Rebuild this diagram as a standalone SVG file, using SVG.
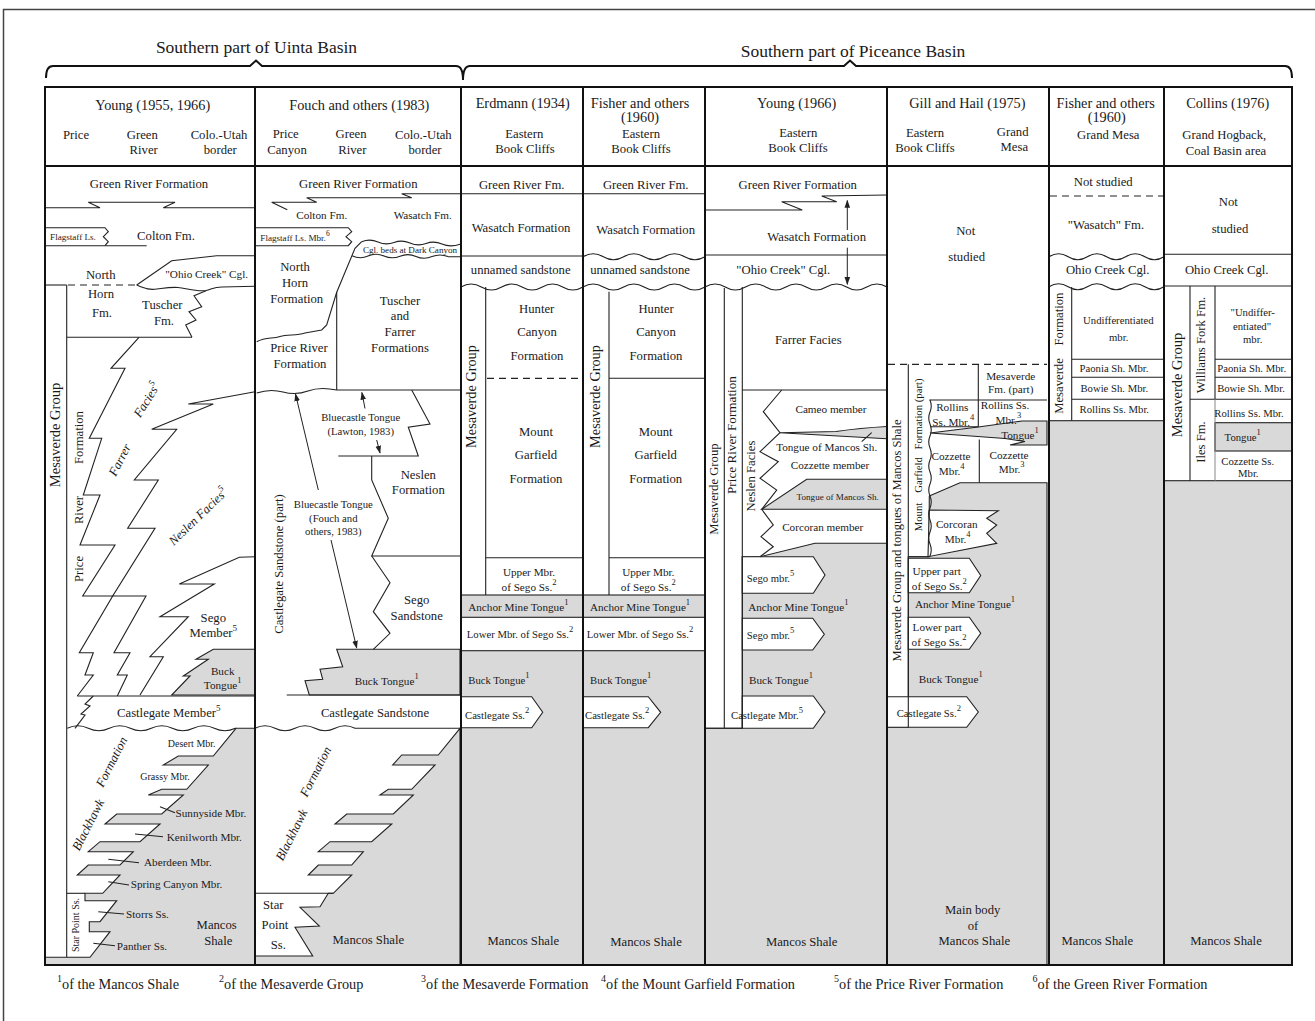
<svg xmlns="http://www.w3.org/2000/svg" width="1315" height="1021" viewBox="0 0 1315 1021">
<defs>
<style>
text{font-family:"Liberation Serif","Times New Roman",serif;fill:#1a1a1a;dominant-baseline:central;text-anchor:middle}
.ttl{font-size:17.5px}
.h{font-size:14.3px}
.sh{font-size:12.7px}
.m{font-size:12.7px}
.s{font-size:11.2px}
.xs{font-size:10.7px}
.st{font-size:10px}
.xxs{font-size:9.1px}
.fn{font-size:14.3px;text-anchor:start}
.ls{text-anchor:start}
.i{font-style:italic}
.ln{fill:none;stroke:#222;stroke-width:1.1}
.lt{fill:none;stroke:#888;stroke-width:1}
.ds{fill:none;stroke:#222;stroke-width:1.2;stroke-dasharray:7 5}
.gb{fill:#d9d9d9;stroke:#222;stroke-width:1.1}
.gn{fill:#d9d9d9;stroke:none}
.wb{fill:#fff;stroke:#222;stroke-width:1.1}
.th{fill:none;stroke:#111;stroke-width:2}
.ar{fill:none;stroke:#222;stroke-width:1;marker-end:url(#ah)}
</style>
<marker id="ah" viewBox="0 0 10 10" refX="9" refY="5" markerWidth="8" markerHeight="8" orient="auto" markerUnits="userSpaceOnUse"><path d="M0,1.5 L10,5 L0,8.5 Z" fill="#222"/></marker>
</defs>
<rect x="0" y="0" width="1315" height="1021" fill="#fff"/>
<rect x="3.5" y="9.5" width="1340" height="1040" fill="none" stroke="#444" stroke-width="1.5"/>

<g id="basins">
<text class="ttl" x="256.5" y="46.5">Southern part of Uinta Basin</text>
<text class="ttl" x="853" y="51">Southern part of Piceance Basin</text>
<path class="th" d="M46,78 Q46,66 53,66 L250,66 L256,60.5 L262,66 L456,66 Q463,66 463,80 Q463,66 470,66 L844,66 L850,60.5 L856,66 L1285,66 Q1292,66 1292,78"/>
</g>

<g id="col-young55">
<polygon class="gb" points="255,649.3 213.3,649.3 196,659.3 208.3,659.3 183.3,676 190,676 171.7,695 255,695"/>
<polygon class="gb" points="236,728.3 255,728.3 255,965 45,965 45,957.3 90,957.3 110,931.7 89.3,931.7 89.3,921.7 100,921.7 116.7,900.7 85,900.7 85,893.3 102.7,893.3 120,875 77.3,875 88.3,865 120,865 133.3,851.7 88.3,851.7 100,841.7 140,841.7 160,824 105,824 116.7,814 161.7,814 183.3,795 148.3,795 161.7,789.3 186.7,789.3 208.3,765 163.3,765 178.3,756 213.3,756"/>
<polyline class="ln" points="45,207.7 100,207.7 88.3,202.3 175,202.3 163.3,207.7 255,207.7"/>
<path class="ln" d="M45,227.7 H105 L108.3,231.7 L103.3,236.7 L108.3,241.7 L105,245.7"/>
<path class="ln" d="M45,245.7 H146.7"/>
<path class="ln" d="M136.7,285 L171.7,260.7 L216.7,255.7 L255,255.7"/>
<path class="ln" d="M136.7,285 C146,289 150,290 157,289 C165,288 170,287 178,287.5 C186,288 196,292 206,290.5 C212,289 214,287 222,287 L255,286.3"/>
<path class="ln" d="M45,285 H66.7"/>
<path class="ds" d="M68,285 H136.7"/>
<path class="ln" d="M66.7,285 V957.3"/>
<path class="ln" d="M66.7,337.3 H192"/>
<polyline class="ln" points="192,337.3 185.7,325 196,320 189,311.7 201.7,306.7 194,295.7 206,290.7"/>
<polyline class="ln" points="139,337.3 111,368.3 125,368.3 89.3,438.3 101.7,438.3 83.3,495 100,495 80,545 115,545 82.7,596 112.7,596 79.3,652.7 93.3,652.7 85,675 93.3,675 77.3,696"/>
<polyline class="ln" points="255,391.7 188.3,404 213.3,404 151.7,429.3 176.7,429.3 134.3,480 158.3,480 127.7,528.3 155,528.3 112.7,596 146,596 114,652.7 130,652.7 117.3,675 127.3,675 117.3,696"/>
<polyline class="ln" points="255,556.7 239.3,557.3 179.3,584 214.3,584 160,616.7 188.3,616.7 150,656.7 163.3,656.7 140,695"/>
<path class="ln" d="M77.3,696 H255"/>
<polyline class="ln" points="93.3,696 85,704 90,706 81,714 85,715 75,728.3"/>
<path class="ln" d="M67.3,728.3 q10.5,-5 21,0 t21,0 t21,0 t21,0 t21,0 t21,0 t21,0 t21,0 L236,728.3"/>
<path class="ln" d="M66.7,893.3 H85"/>
<path class="ln" d="M160,806.7 L175,812.7 M135,834 L163,836.7 M108.3,859.3 L139,862.7 M108.3,881.7 L129,885 M98.3,911.7 L124,914 M93.3,943.3 L115,945.7"/>
<text class="m" x="149" y="184">Green River Formation</text>
<text class="xxs" x="73" y="237">Flagstaff Ls.</text>
<text class="m" x="166" y="236">Colton Fm.</text>
<text class="m" x="100.7" y="275">North</text>
<text class="m" x="101" y="294">Horn</text>
<text class="m" x="102" y="313.3">Fm.</text>
<text class="s" x="206.7" y="273.7">"Ohio Creek" Cgl.</text>
<text class="m" x="162.3" y="305">Tuscher</text>
<text class="m" x="164" y="320.7">Fm.</text>
<text style="font-size:14.5px" transform="translate(55,435) rotate(-90)">Mesaverde Group</text>
<text class="m" transform="translate(79.3,569) rotate(-90)">Price</text>
<text class="m" transform="translate(79.3,510) rotate(-90)">River</text>
<text class="m" transform="translate(79.3,437.5) rotate(-90)">Formation</text>
<text class="m i" transform="translate(120,460) rotate(-63)">Farrer</text>
<text class="m i" transform="translate(147,400) rotate(-58)">Facies<tspan baseline-shift="super" font-size="9">5</tspan></text>
<text class="m i" transform="translate(198.3,516.7) rotate(-44)">Neslen Facies<tspan baseline-shift="super" font-size="9">5</tspan></text>
<text class="m" x="213.3" y="618.3">Sego</text>
<text class="m" x="213.3" y="632.7">Member<tspan baseline-shift="super" font-size="9">5</tspan></text>
<text class="s" x="222.7" y="670.7">Buck</text>
<text class="s" x="222.7" y="685">Tongue<tspan baseline-shift="super" font-size="8.5">1</tspan></text>
<text class="m" x="168.8" y="712.7">Castlegate Member<tspan baseline-shift="super" font-size="9">5</tspan></text>
<text class="m i" transform="translate(88.3,825) rotate(-63)">Blackhawk</text>
<text class="m i" transform="translate(111.7,762) rotate(-63)">Formation</text>
<text class="st" x="191.7" y="743.3">Desert Mbr.</text>
<text class="st" x="165" y="776">Grassy Mbr.</text>
<text class="s ls" x="175.5" y="812.7">Sunnyside Mbr.</text>
<text class="s ls" x="166.7" y="836.5">Kenilworth Mbr.</text>
<text class="s ls" x="144" y="861.7">Aberdeen Mbr.</text>
<text class="s ls" x="130.7" y="884.3">Spring Canyon Mbr.</text>
<text class="s ls" x="126" y="914">Storrs Ss.</text>
<text class="s ls" x="116.7" y="945.7">Panther Ss.</text>
<text class="m" x="216.7" y="925">Mancos</text>
<text class="m" x="218.3" y="940.7">Shale</text>
<text class="st" transform="translate(75,925) rotate(-90)">Star Point Ss.</text>
</g>

<g id="col-fouch">
<polygon class="gb" points="460,649.3 336.7,649.3 342.7,666.7 320,669.3 322.7,679.3 305,680.7 309.3,695 460,695"/>
<polygon class="gb" points="438.3,755 460,728.3 460,965 255,965 255,956 312.7,956 295,927.3 319.3,926 300,907.3 320,906.7 328.3,893.3 333.3,893.3 351.7,875 308.3,875 318.3,865 351.7,865 363.3,851.7 318.3,851.7 330,841.7 371.7,841.7 391.7,824 335,824 346.7,814 393.3,814 413.3,795 380,795 388.3,789.3 411.7,789.3 435,765 392.7,765 401.7,755"/>
<polyline class="ln" points="287.3,209.7 271.7,202.3 316.7,202.3 306.7,197.7 411.7,197.7 401.7,193.7 460,193.7"/>
<path class="ln" d="M255,227.7 H348.3 L351.7,231.7 L346,236.7 L351.7,241.7 L348.3,245.7 H255"/>
<path class="ln" d="M256.7,341.7 C266,337 272,339 280,336.5 C288,334 296,336 305,333 L321.7,330 L326.7,325 L336.7,292.3 L355,248.3 L361.7,241.7"/>
<path class="ln" d="M361.7,241.7 Q370,238.5 378,242 T394,242.5 T410,243 T426,243.5 T442,244 T460,244.3"/>
<path class="ln" d="M352,255.7 Q360,259.5 368,256 T384,256 T400,256.2 T416,256.4 T432,256.6 T448,256.6 L460,256.7"/>
<path class="ln" d="M336.7,292.3 V390"/>
<path class="ln" d="M256.7,393 Q270,388.5 283,392 T308,391 T336.7,390 L460,390"/>
<polyline class="ln" points="411.7,390 430,424 408.3,427.3 418.3,456 338.3,456"/>
<polyline class="ln" points="371.7,456 371.7,480 388.3,518.3 371.7,556 460,556"/>
<polyline class="ln" points="371.7,556 390,582.7 373.3,611.7 390,633.3 373.3,649.3"/>
<path class="ln" d="M286.7,695 H460"/>
<path class="ln" d="M255,728.3 q10,-5 20,0 t20,0 t20,0 t20,0 t20,0 L460,728.3"/>
<path class="ln" d="M255,893.3 H333.3"/>
<text class="m" x="358.3" y="184">Green River Formation</text>
<text class="s" x="321.7" y="215.3">Colton Fm.</text>
<text class="s" x="422.7" y="215.3">Wasatch Fm.</text>
<text class="xxs" x="295" y="238.3">Flagstaff Ls. Mbr.<tspan baseline-shift="super" font-size="7.5">6</tspan></text>
<text class="xxs" x="410" y="250">Cgl. beds at Dark Canyon</text>
<text class="m" x="295" y="266.7">North</text>
<text class="m" x="295" y="282.7">Horn</text>
<text class="m" x="296.7" y="298.7">Formation</text>
<text class="m" x="299" y="348">Price River</text>
<text class="m" x="300" y="363.7">Formation</text>
<text class="m" x="400" y="301">Tuscher</text>
<text class="m" x="400" y="316">and</text>
<text class="m" x="400" y="332">Farrer</text>
<text class="m" x="400" y="348">Formations</text>
<text class="xs" x="360.7" y="417.3">Bluecastle Tongue</text>
<text class="xs" x="360.7" y="430.7">(Lawton, 1983)</text>
<text class="m" x="418.3" y="475">Neslen</text>
<text class="m" x="418.3" y="490">Formation</text>
<text class="xs" x="333.3" y="504.3">Bluecastle Tongue</text>
<text class="xs" x="333.3" y="517.7">(Fouch and</text>
<text class="xs" x="333.3" y="530.7">others, 1983)</text>
<text class="m" transform="translate(279,564) rotate(-90)">Castlegate Sandstone (part)</text>
<text class="m" x="416.7" y="600">Sego</text>
<text class="m" x="416.7" y="616">Sandstone</text>
<text class="s" x="386.7" y="680.7">Buck Tongue<tspan baseline-shift="super" font-size="8.5">1</tspan></text>
<text class="m" x="375" y="712.7">Castlegate Sandstone</text>
<text class="m i" transform="translate(291.7,835) rotate(-63)">Blackhawk</text>
<text class="m i" transform="translate(315.7,771.7) rotate(-63)">Formation</text>
<text class="m" x="273.3" y="905">Star</text>
<text class="m" x="275" y="925">Point</text>
<text class="m" x="278.3" y="945">Ss.</text>
<text class="m" x="368.3" y="940">Mancos Shale</text>
</g>

<g id="col-erdmann">
<rect class="gb" x="461" y="595" width="122" height="22.3"/>
<rect class="gb" x="461" y="650.7" width="122" height="314.3"/>
<polygon class="wb" points="461,696.7 531.7,696.7 542.7,712.3 531.7,727.7 461,727.7"/>
<path class="ln" d="M461,193.7 H583 M461,256 H583"/>
<path class="ln" d="M461,287 q10.17,-6 20.33,0 t20.33,0 t20.33,0 t20.33,0 t20.33,0 t20.33,0"/>
<path class="ln" d="M485.7,287 V595"/>
<path class="ds" d="M487,378.3 H583"/>
<path class="ln" d="M485.7,557.7 H583"/>
<text class="m" x="521.7" y="184.7">Green River Fm.</text>
<text class="m" x="521" y="227.7">Wasatch Formation</text>
<text class="m" x="520.7" y="270">unnamed sandstone</text>
<text class="m" x="536.7" y="309">Hunter</text>
<text class="m" x="537" y="332">Canyon</text>
<text class="m" x="537" y="355.7">Formation</text>
<text style="font-size:14.3px" transform="translate(471,396.5) rotate(-90)">Mesaverde Group</text>
<text class="m" x="536" y="432">Mount</text>
<text class="m" x="536" y="455">Garfield</text>
<text class="m" x="536" y="479">Formation</text>
<text class="s" x="529" y="571.7">Upper Mbr.</text>
<text class="s" x="529" y="586.7">of Sego Ss.<tspan baseline-shift="super" font-size="8.5">2</tspan></text>
<text class="s" x="518.3" y="606.5">Anchor Mine Tongue<tspan baseline-shift="super" font-size="8.5">1</tspan></text>
<text class="xs" x="520" y="634.3">Lower Mbr. of Sego Ss.<tspan baseline-shift="super" font-size="8.5">2</tspan></text>
<text class="xs ls" x="468.3" y="680">Buck Tongue<tspan baseline-shift="super" font-size="8.5">1</tspan></text>
<text class="xs ls" x="465" y="715">Castlegate Ss.<tspan baseline-shift="super" font-size="8.5">2</tspan></text>
<text class="m" x="523.3" y="941">Mancos Shale</text>
</g>

<g id="col-fisher60">
<rect class="gb" x="583" y="595" width="122" height="22.3"/>
<rect class="gb" x="583" y="650.7" width="122" height="314.3"/>
<polygon class="wb" points="583,696.7 648.3,696.7 660.7,712.3 648.3,727.7 583,727.7"/>
<path class="ln" d="M583,193.7 H705"/>
<path class="ln" d="M583,256.7 q10.17,-6 20.33,0 t20.33,0 t20.33,0 t20.33,0 t20.33,0 t20.33,0"/>
<path class="ln" d="M583,287 q10.17,-6 20.33,0 t20.33,0 t20.33,0 t20.33,0 t20.33,0 t20.33,0"/>
<path class="ln" d="M609,291.7 V595 M609,378.3 H705 M609,557.7 H705"/>
<text class="m" x="645.7" y="184.7">Green River Fm.</text>
<text class="m" x="645.7" y="230">Wasatch Formation</text>
<text class="m" x="640" y="270">unnamed sandstone</text>
<text class="m" x="656" y="309">Hunter</text>
<text class="m" x="656" y="332">Canyon</text>
<text class="m" x="656" y="355.7">Formation</text>
<text style="font-size:14.3px" transform="translate(595,396.5) rotate(-90)">Mesaverde Group</text>
<text class="m" x="655.7" y="432">Mount</text>
<text class="m" x="655.7" y="455">Garfield</text>
<text class="m" x="655.7" y="479">Formation</text>
<text class="s" x="648.3" y="571.7">Upper Mbr.</text>
<text class="s" x="648.3" y="586.7">of Sego Ss.<tspan baseline-shift="super" font-size="8.5">2</tspan></text>
<text class="s" x="640" y="606.5">Anchor Mine Tongue<tspan baseline-shift="super" font-size="8.5">1</tspan></text>
<text class="xs" x="640" y="634.3">Lower Mbr. of Sego Ss.<tspan baseline-shift="super" font-size="8.5">2</tspan></text>
<text class="xs ls" x="590" y="679.5">Buck Tongue<tspan baseline-shift="super" font-size="8.5">1</tspan></text>
<text class="xs ls" x="585" y="715">Castlegate Ss.<tspan baseline-shift="super" font-size="8.5">2</tspan></text>
<text class="m" x="646" y="942">Mancos Shale</text>
</g>

<g id="col-young66">
<polygon class="gb" points="742.3,556.7 760,556.7 815,543.3 887,543.3 887,965 705,965 705,728.3 742.3,728.3"/>
<path class="gn" d="M780,432.7 L836,431.5 Q860,428 887,426.5 L887,438.7 Z"/>
<path class="ln" d="M780,432.7 L836,431.5 Q860,428 887,426.5 M780,432.7 L887,438.7"/>
<polygon class="gb" points="761.7,509.3 806.7,479.3 887,479.3 887,509.3"/>
<polygon class="wb" points="742.3,556.7 813.3,556.7 825,575 813.3,593.3 742.3,593.3"/>
<polygon class="wb" points="742.3,618.3 812.7,618.3 824.3,634.3 812.7,650 742.3,650"/>
<polygon class="wb" points="742.3,696 813.3,696 825,712 813.3,728.3 742.3,728.3"/>
<polyline class="ln" points="705.3,210 802.3,210 781.7,201.7 836.7,201.7 821.7,196 887,195"/>
<path class="ln" d="M705,255 H887"/>
<path class="ln" d="M705,287 q10.11,-6 20.22,0 t20.22,0 t20.22,0 t20.22,0 t20.22,0 t20.22,0 t20.22,0 t20.22,0 t20.22,0"/>
<path class="ln" d="M724.3,288 V728.3 M742.3,287 V728.3 M705,728.3 H742.3 M742.3,390 H887"/>
<polyline class="ln" points="781.7,390 763.3,411.7 780,432.7 760,451.7 778.3,461.7 760,478.3 776.7,490 761.7,509.3 773.3,525 761,536.7 773.3,546.7 760,556.7"/>
<path class="ln" d="M861.7,441.7 L871.7,432.7"/>
<text class="m" x="797.7" y="185">Green River Formation</text>
<text class="m" x="816.7" y="236.7">Wasatch Formation</text>
<text class="m" x="783.3" y="270">"Ohio Creek" Cgl.</text>
<text class="m" x="808.3" y="340">Farrer Facies</text>
<text class="m" transform="translate(714.3,489) rotate(-90)">Mesaverde Group</text>
<text style="font-size:13.2px" transform="translate(731.7,435) rotate(-90)">Price River Formation</text>
<text class="m" transform="translate(751,476) rotate(-90)">Neslen Facies</text>
<text class="s" x="831" y="409">Cameo member</text>
<text class="s" x="826.7" y="447.3">Tongue of Mancos Sh.</text>
<text class="s" x="830" y="465.3">Cozzette member</text>
<text class="xxs" x="837.7" y="496.7">Tongue of Mancos Sh.</text>
<text class="s" x="822.7" y="526.7">Corcoran member</text>
<text class="xs ls" x="746.7" y="577.5">Sego mbr.<tspan baseline-shift="super" font-size="8.5">5</tspan></text>
<text class="s" x="798.3" y="607.3">Anchor Mine Tongue<tspan baseline-shift="super" font-size="8.5">1</tspan></text>
<text class="xs ls" x="746.7" y="635">Sego mbr.<tspan baseline-shift="super" font-size="8.5">5</tspan></text>
<text class="s" x="781" y="680">Buck Tongue<tspan baseline-shift="super" font-size="8.5">1</tspan></text>
<text class="xs ls" x="731" y="715">Castlegate Mbr.<tspan baseline-shift="super" font-size="8.5">5</tspan></text>
<text class="m" x="801.7" y="941.7">Mancos Shale</text>
</g>

<g id="col-gill">
<polygon class="gb" points="929.3,496 960,482.7 1047,482.7 1047,965 887,965 887,727.3 908.3,727.3 908.3,556.7 929,556.7"/>
<polygon class="gb" points="930,433 978.3,427 1022,421 1047,421 1047,445 1010,445 1025,441.5 1005,438.5"/>
<polygon class="wb" points="929.3,510 998.3,510.7 986.7,518.3 996.7,525 986.7,533.3 996.7,543.3 928,556.7"/>
<polygon class="wb" points="908.3,558.3 969.3,558.3 980.7,575.5 969.3,592.7 908.3,592.7"/>
<polygon class="wb" points="908.3,617.3 969.3,617.3 980.7,633.3 969.3,649.3 908.3,649.3"/>
<polygon class="wb" points="887.3,696.7 966.7,696.7 978.3,712 966.7,727.3 887.3,727.3"/>
<path class="ds" d="M888,364.3 H1047"/>
<path class="ln" d="M908.3,364.3 V727.3 M978.3,364.3 V426.7 M929.3,400 H1047 M930,426.7 H978.3 M979.3,439.5 V482.7"/>
<path class="ln" d="M930,400 q2.5,6 0,12 t0,12 t0,12 t0,12 t0,12 t0,12 t0,12 t0,12 t0,12 t0,12 t0,12 t0,12 t0,12 L929,556.7 H908.3"/>
<text class="m" x="965.7" y="230.7">Not</text>
<text class="m" x="966.7" y="257">studied</text>
<text style="font-size:12.6px" transform="translate(897.3,540.5) rotate(-90)">Mesaverde Group and tongues of Mancos Shale</text>
<text class="xs" transform="translate(917.7,517) rotate(-90)">Mount</text>
<text class="xs" transform="translate(917.7,475) rotate(-90)">Garfield</text>
<text class="xs" transform="translate(917.7,414) rotate(-90)">Formation (part)</text>
<text class="s" x="1010.7" y="376">Mesaverde</text>
<text class="s" x="1010.7" y="389.3">Fm. (part)</text>
<text class="s" x="952.3" y="407.3">Rollins</text>
<text class="s" x="953.3" y="421.5">Ss. Mbr.<tspan baseline-shift="super" font-size="8.5">4</tspan></text>
<text class="s" x="1005" y="405">Rollins Ss.</text>
<text class="s" x="1008.3" y="420">Mbr.<tspan baseline-shift="super" font-size="8.5">3</tspan></text>
<text class="s" x="1020" y="435">Tongue<tspan baseline-shift="super" font-size="8.5">1</tspan></text>
<text class="s" x="951" y="456">Cozzette</text>
<text class="s" x="951.7" y="470.7">Mbr.<tspan baseline-shift="super" font-size="8.5">4</tspan></text>
<text class="s" x="1009" y="455.3">Cozzette</text>
<text class="s" x="1011.7" y="469.3">Mbr.<tspan baseline-shift="super" font-size="8.5">3</tspan></text>
<text class="s" x="956.7" y="524">Corcoran</text>
<text class="s" x="957.7" y="539">Mbr.<tspan baseline-shift="super" font-size="8.5">4</tspan></text>
<text class="s" x="936.7" y="570.7">Upper part</text>
<text class="s" x="939.3" y="586">of Sego Ss.<tspan baseline-shift="super" font-size="8.5">2</tspan></text>
<text class="s" x="965" y="604.3">Anchor Mine Tongue<tspan baseline-shift="super" font-size="8.5">1</tspan></text>
<text class="s" x="937.3" y="627.3">Lower part</text>
<text class="s" x="939" y="642.3">of Sego Ss.<tspan baseline-shift="super" font-size="8.5">2</tspan></text>
<text class="s" x="950.7" y="679.3">Buck Tongue<tspan baseline-shift="super" font-size="8.5">1</tspan></text>
<text class="xs ls" x="896.7" y="713.3">Castlegate Ss.<tspan baseline-shift="super" font-size="8.5">2</tspan></text>
<text class="m" x="972.7" y="910">Main body</text>
<text class="m" x="973" y="925.7">of</text>
<text class="m" x="974.3" y="941">Mancos Shale</text>
</g>

<g id="col-fishergm">
<rect class="gb" x="1049" y="420.7" width="115" height="544.3"/>
<path class="ds" d="M1050,196 H1164"/>
<path class="ln" d="M1049,256.7 q9.58,-6 19.17,0 t19.17,0 t19.17,0 t19.17,0 t19.17,0 t19.17,0"/>
<path class="ln" d="M1049,286.7 q9.58,-6 19.17,0 t19.17,0 t19.17,0 t19.17,0 t19.17,0 t19.17,0"/>
<path class="ln" d="M1071.7,287 V420.7 M1071.7,359.3 H1164 M1071.7,377.3 H1164 M1071.7,399.3 H1164"/>
<text class="m" x="1103.3" y="182">Not studied</text>
<text class="m" x="1106" y="225">"Wasatch" Fm.</text>
<text class="m" x="1107.7" y="270">Ohio Creek Cgl.</text>
<text class="m" transform="translate(1059,319) rotate(-90)">Formation</text>
<text class="m" transform="translate(1059,386) rotate(-90)">Mesaverde</text>
<text class="xs" x="1118.3" y="320">Undifferentiated</text>
<text class="xs" x="1118.7" y="336.7">mbr.</text>
<text class="xs" x="1114" y="368.3">Paonia Sh. Mbr.</text>
<text class="xs" x="1114.3" y="388.3">Bowie Sh. Mbr.</text>
<text class="xs" x="1114.3" y="409.3">Rollins Ss. Mbr.</text>
<text class="m" x="1097.3" y="940.7">Mancos Shale</text>
</g>

<g id="col-collins">
<rect class="gb" x="1164" y="480.7" width="128" height="484.3"/>
<rect class="gb" x="1215" y="422.7" width="77" height="28.3"/>
<path class="ln" d="M1164,254.3 H1292 M1164,286 H1292 M1190,286 V480.7 M1215,286 V399.3 M1215,359.3 H1292 M1215,377.3 H1292 M1190,399.3 H1292"/>
<path class="lt" d="M1215,399.3 V480.7"/>
<text class="m" x="1228.3" y="201.7">Not</text>
<text class="m" x="1230" y="229">studied</text>
<text class="m" x="1226.7" y="270">Ohio Creek Cgl.</text>
<text style="font-size:14.5px" transform="translate(1176.7,385) rotate(-90)">Mesaverde Group</text>
<text class="m" transform="translate(1200.7,345) rotate(-90)">Williams Fork Fm.</text>
<text class="m" transform="translate(1200.7,442) rotate(-90)">Iles Fm.</text>
<text class="xs" x="1252.7" y="311.7">"Undiffer-</text>
<text class="xs" x="1252" y="325.7">entiated"</text>
<text class="xs" x="1252.7" y="339">mbr.</text>
<text class="xs" x="1251.7" y="367.7">Paonia Sh. Mbr.</text>
<text class="xs" x="1251" y="388.3">Bowie Sh. Mbr.</text>
<text class="xs" x="1249" y="412.7">Rollins Ss. Mbr.</text>
<text class="xs" x="1242.7" y="436.7">Tongue<tspan baseline-shift="super" font-size="8.5">1</tspan></text>
<text class="xs" x="1247.7" y="460.7">Cozzette Ss.</text>
<text class="xs" x="1248.3" y="472.7">Mbr.</text>
<text class="m" x="1226" y="940.7">Mancos Shale</text>
</g>

<g id="connectors">
<path class="ar" d="M318.3,490 L295.5,394"/>
<path class="ar" d="M331,540 L356.7,648"/>
<path class="ar" d="M365,408.5 L361.9,392.5"/>
<path class="ar" d="M376.7,440 L380,453"/>
<path class="ar" d="M847.3,230 V200.5"/>
<path class="ar" d="M847.3,247.7 V284.3"/>
</g>

<g id="table">
<rect class="th" x="45" y="87" width="1247" height="878"/>
<path class="th" d="M45,166 H1292 M255,87 V965 M461,87 V965 M583,87 V965 M705,87 V965 M887,87 V965 M1049,87 V965 M1164,87 V965"/>
</g>

<g id="header">
<text class="h" x="152.7" y="105">Young (1955, 1966)</text>
<text class="sh" x="76" y="135">Price</text>
<text class="sh" x="142.3" y="135">Green</text>
<text class="sh" x="143.7" y="150">River</text>
<text class="sh" x="219" y="134.5">Colo.-Utah</text>
<text class="sh" x="220.3" y="150">border</text>
<text class="h" x="359.3" y="105">Fouch and others (1983)</text>
<text class="sh" x="285.7" y="133.7">Price</text>
<text class="sh" x="287" y="150">Canyon</text>
<text class="sh" x="351" y="133.7">Green</text>
<text class="sh" x="352.3" y="150">River</text>
<text class="sh" x="423.3" y="135">Colo.-Utah</text>
<text class="sh" x="425" y="150">border</text>
<text class="h" x="522.7" y="103.3">Erdmann (1934)</text>
<text class="sh" x="524.3" y="134">Eastern</text>
<text class="sh" x="525" y="149.3">Book Cliffs</text>
<text class="h" x="640" y="103.3">Fisher and others</text>
<text class="h" x="640" y="116.7">(1960)</text>
<text class="sh" x="641" y="134">Eastern</text>
<text class="sh" x="641" y="149.3">Book Cliffs</text>
<text class="h" x="796.7" y="103.3">Young (1966)</text>
<text class="sh" x="798.3" y="132.7">Eastern</text>
<text class="sh" x="798" y="147.7">Book Cliffs</text>
<text class="h" x="967.3" y="103.3">Gill and Hail (1975)</text>
<text class="sh" x="925" y="132.7">Eastern</text>
<text class="sh" x="925" y="147.7">Book Cliffs</text>
<text class="sh" x="1012.7" y="131.7">Grand</text>
<text class="sh" x="1014.3" y="146.7">Mesa</text>
<text class="h" x="1105.7" y="103.3">Fisher and others</text>
<text class="h" x="1106.7" y="116.7">(1960)</text>
<text class="sh" x="1108.3" y="135">Grand Mesa</text>
<text class="h" x="1227.7" y="103.3">Collins (1976)</text>
<text class="sh" x="1224.3" y="135">Grand Hogback,</text>
<text class="sh" x="1226" y="150.7">Coal Basin area</text>
</g>

<g id="footnotes">
<text class="fn" x="57" y="983.5"><tspan baseline-shift="super" font-size="10">1</tspan>of the Mancos Shale</text>
<text class="fn" x="219" y="983.5"><tspan baseline-shift="super" font-size="10">2</tspan>of the Mesaverde Group</text>
<text class="fn" x="421" y="983.5"><tspan baseline-shift="super" font-size="10">3</tspan>of the Mesaverde Formation</text>
<text class="fn" x="601" y="983.5"><tspan baseline-shift="super" font-size="10">4</tspan>of the Mount Garfield Formation</text>
<text class="fn" x="834" y="983.5"><tspan baseline-shift="super" font-size="10">5</tspan>of the Price River Formation</text>
<text class="fn" x="1032.5" y="983.5"><tspan baseline-shift="super" font-size="10">6</tspan>of the Green River Formation</text>
</g>
</svg>
